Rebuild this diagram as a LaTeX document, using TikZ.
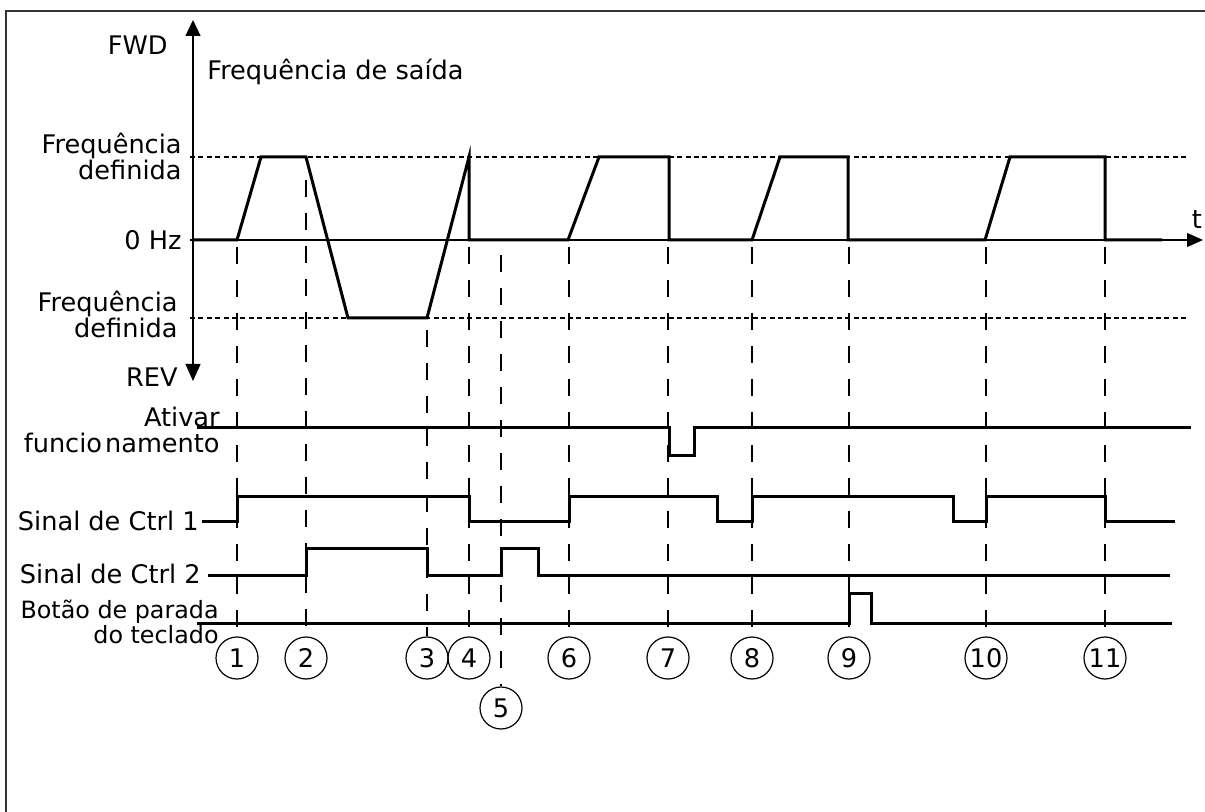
\documentclass[tikz,border=0pt]{standalone}
\usepackage{fontspec}
\setmainfont{DejaVu Sans}
\usetikzlibrary{arrows.meta}
\begin{document}
\begin{tikzpicture}[x=0.5pt,y=-0.5pt,
  lbl/.style={font=\fontsize{12.8}{13}\selectfont, inner sep=0pt},
  num/.style={circle, draw, line width=0.6pt, minimum size=21pt, inner sep=0pt, font=\fontsize{12.8}{13}\selectfont},
  trace/.style={line width=1.5pt, line join=miter},
  vdash/.style={line width=0.6pt, dash pattern=on 8.5pt off 8pt},
  hdash/.style={line width=0.6pt, dash pattern=on 2.5pt off 1.7pt},
  axisline/.style={line width=0.6pt}]
\useasboundingbox (0,0) rectangle (1205,812);
% frame
\draw[line width=0.7pt, black!80] (6,812) -- (6,11) -- (1205,11);
% set frequency lines
\draw[hdash] (190,157) -- (1189,157);
\draw[hdash] (190,318) -- (1189,318);
% axes
\draw[axisline,{Triangle[length=8pt,width=7.5pt]}-{Triangle[length=8.5pt,width=7.5pt]}] (193,20) -- (193,381);
\draw[axisline,-{Triangle[length=8pt,width=7pt]}] (190,240) -- (1203,240);
% labels
\node[lbl, anchor=east] (fwd) at (168,45) {FWD};
\node[lbl, anchor=west] (fout) at (207,72) {Frequência de saída};
\node[lbl, anchor=east, align=right] (fset1) at (182,156) {Frequência\\definida};
\node[lbl, anchor=east] (zero) at (182,240) {0 Hz};
\node[lbl, anchor=east, align=right] (fset2) at (178,314) {Frequência\\definida};
\node[lbl, anchor=east] (rev) at (178,377) {REV};
\node[lbl, anchor=center] (t) at (1197,220) {t};
\node[lbl, anchor=east, align=right] (run) at (220,430) {Ativar\\funcio\kern1.5pt namento};
\node[lbl, anchor=east] (s1) at (199,521) {Sinal de Ctrl 1};
\node[lbl, anchor=east] (s2) at (201,574) {Sinal de Ctrl 2};
\node[lbl, anchor=east, align=right, font=\fontsize{11.9}{12.5}\selectfont] (stop) at (219,622) {Botão de parada\\do teclado};
% frequency trace
\draw[trace] (194,240) -- (237,240) -- (261,157) -- (306,157) -- (348,318) -- (427,318) -- (469,157) -- (469,240) -- (568,240) -- (599,157) -- (669,157) -- (669,240) -- (752,240) -- (780,157) -- (848,157) -- (848,240) -- (985,240) -- (1010,157) -- (1105,157) -- (1105,240) -- (1162,240);
% run enable
\draw[trace] (197,428) -- (669,428) -- (669,456) -- (694,456) -- (694,428) -- (1191,428);
% ctrl 1
\draw[trace] (202,522) -- (237,522) -- (237,497) -- (469,497) -- (469,522) -- (569,522) -- (569,497) -- (717,497) -- (717,522) -- (752,522) -- (752,497) -- (953,497) -- (953,522) -- (986,522) -- (986,497) -- (1105,497) -- (1105,522) -- (1175,522);
% ctrl 2
\draw[trace] (208,575) -- (306,575) -- (306,548) -- (427,548) -- (427,575) -- (501,575) -- (501,548) -- (538,548) -- (538,575) -- (1170,575);
% stop button
\draw[trace] (197,623) -- (849,623) -- (849,593) -- (871,593) -- (871,623) -- (1172,623);
% circles
\node[num] (c1) at (237,658) {1};
\node[num] (c2) at (306,658) {2};
\node[num] (c3) at (427,658) {3};
\node[num] (c4) at (469,658) {4};
\node[num] (c5) at (501,708) {5};
\node[num] (c6) at (569,658) {6};
\node[num] (c7) at (668,658) {7};
\node[num] (c8) at (752,658) {8};
\node[num] (c9) at (849,658) {9};
\node[num] (c10) at (986,658) {10};
\node[num] (c11) at (1105,658) {11};
% vertical dashed lines
\coordinate (v1) at (237,247);
\coordinate (v2) at (306,180);
\coordinate (v3) at (427,330);
\coordinate (v4) at (469,247);
\coordinate (v5) at (501,255);
\coordinate (v6) at (569,247);
\coordinate (v7) at (668,247);
\coordinate (v8) at (752,247);
\coordinate (v9) at (849,247);
\coordinate (v10) at (986,247);
\coordinate (v11) at (1105,247);
\foreach \i in {1,...,11} {\draw[vdash] (v\i) -- (c\i.north);}
\end{tikzpicture}
\end{document}
